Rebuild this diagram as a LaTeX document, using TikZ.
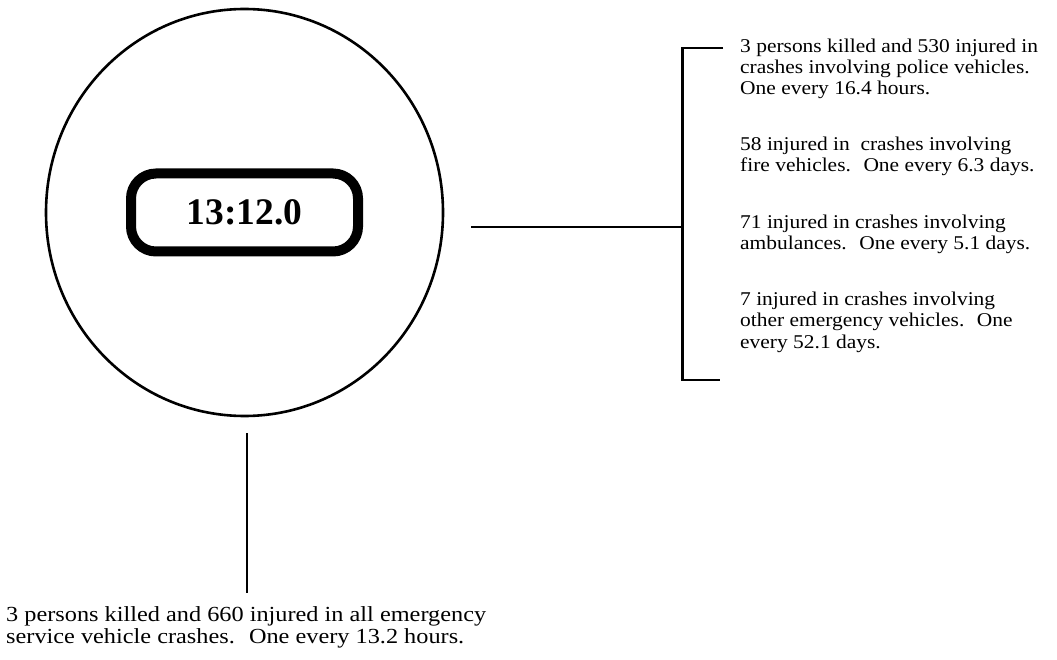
\documentclass[tikz,border=0pt]{standalone}
\usepackage{fontspec}
\setmainfont{Liberation Serif}
\newfontfamily\notefont[FakeStretch=1.10]{Liberation Serif}
\newfontfamily\totalfont[FakeStretch=1.13]{Liberation Serif}
\usetikzlibrary{shapes,arrows}
\newcommand{\clocktime}[1]{{\bfseries #1}}

\tikzset{
	ring/.style={draw, ellipse, line width=2.6pt, minimum width=397pt, minimum height=407pt, inner sep=0pt},
	clock/.style={draw, rectangle, rounded corners=25pt, line width=10pt, minimum width=227pt, minimum height=78pt, font=\fontsize{37.5}{44}\selectfont},
	fact/.style={font=\notefont\fontsize{19.5}{21.2}\selectfont, align=left, inner sep=0pt, anchor=base west},
	total/.style={font=\totalfont\fontsize{21.5}{22}\selectfont, align=left, inner sep=0pt, anchor=base west}
}

\begin{document}
\begin{tikzpicture}[x=1pt, y=1pt, node distance=20pt, line width=2.4pt]
	\useasboundingbox[fill=white] (0,0) rectangle (1057,-660);

	\node[ring] (ring) at (244.5,-212.5) {};
	\node[clock] (clock) at (ring) {\clocktime{13:12.0}};

	% link to the breakdown
	\coordinate (vring) at (471,-227);
	\coordinate[right of=vring, node distance=211.5pt] (vbracket);
	\draw (vring) -- (vbracket);
	\coordinate (btop) at (723,-48);
	\coordinate (bbot) at (720,-380);
	\draw (btop) -| (vbracket) |- (bbot);

	% base of a multi-line node sits on its last line
	\node[fact] (detail) at (739,-348) {3 persons killed and 530 injured in\\
		crashes involving police vehicles.\\
		One every 16.4 hours.\\[35pt]
		58 injured in~ crashes involving\\
		fire vehicles.~ One every 6.3 days.\\[35pt]
		71 injured in crashes involving\\
		ambulances.~ One every 5.1 days.\\[35pt]
		7 injured in crashes involving\\
		other emergency vehicles.~ One\\
		every 52.1 days.};

	% link to the total
	\coordinate (vtop) at (247,-433);
	\coordinate[below of=vtop, node distance=160pt] (vbot);
	\draw (vtop) -- (vbot);

	\node[total] (total) at (5,-643) {3 persons killed and 660 injured in all emergency\\
		service vehicle crashes.~ One every 13.2 hours.};
\end{tikzpicture}
\end{document}
